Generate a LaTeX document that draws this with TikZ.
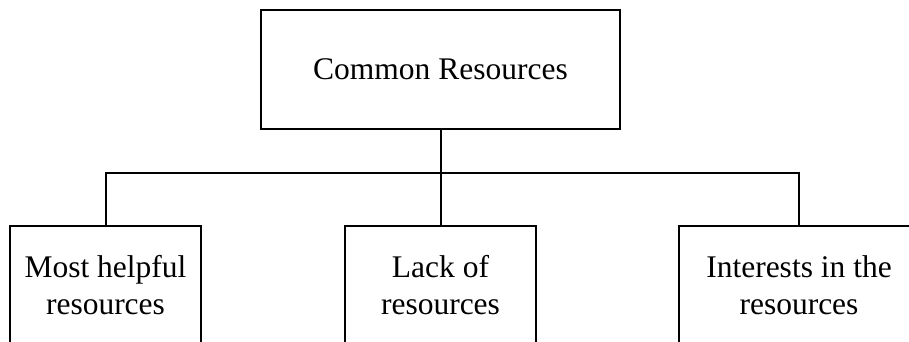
\documentclass[tikz,border=0pt]{standalone}
\usepackage{fontspec}
\setmainfont{Liberation Serif}
\begin{document}
\begin{tikzpicture}[x=1pt,y=-1pt,
  box/.style={draw=black,line width=2pt,fill=white,inner sep=0pt,align=center,
    font=\fontsize{31.5}{37}\selectfont},
  link/.style={draw=black,line width=2pt,line join=miter}]
\useasboundingbox (0,0) rectangle (909,341);
\node[box,minimum width=359pt,minimum height=119pt] (top) at (440.5,69.5) {Common Resources};
\node[box,anchor=north,minimum width=191pt,minimum height=118pt] (left) at (105.5,225) {Most helpful\\resources};
\node[box,anchor=north,minimum width=191pt,minimum height=118pt] (mid) at (440.5,225) {Lack of\\resources};
\node[box,anchor=north,minimum width=240pt,minimum height=118pt] (right) at (799,225) {Interests in the\\resources};
\coordinate (bus) at (440.5,173);
\draw[link] (top.south) -- (bus) -- (mid.north);
\draw[link] (left.north) |- (bus);
\draw[link] (right.north) |- (bus);
\end{tikzpicture}
\end{document}
